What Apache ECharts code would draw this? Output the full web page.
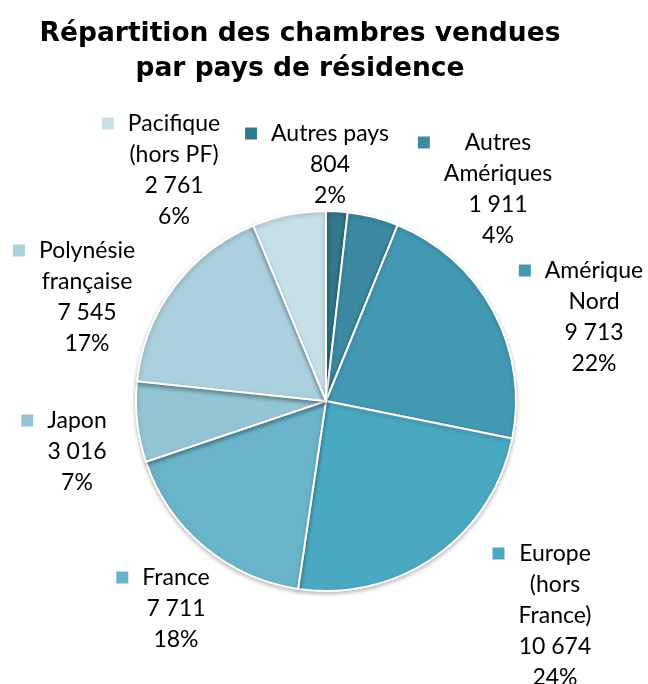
<!DOCTYPE html>
<html>
<head>
<meta charset="utf-8">
<script src="https://cdn.jsdelivr.net/npm/echarts@6/dist/echarts.min.js"></script>
<style>
  html, body { margin: 0; padding: 0; background: #fff; }
  #chart { width: 648px; height: 684px; }
</style>
</head>
<body>
<div id="chart"></div>
<script>
// data, clockwise from 12 o'clock
const categories = ['Autres pays', 'Autres\nAmériques', 'Amérique\nNord', 'Europe\n(hors\nFrance)', 'France', 'Japon', 'Polynésie\nfrançaise', 'Pacifique\n(hors PF)']
const values = [804, 1911, 9713, 10674, 7711, 3016, 7545, 2761]

const colors = ['#317a8c', '#3b8aa1', '#4399b2', '#4aa8c1', '#6ab4ca', '#93c4d4', '#abcfdc', '#c7e0e8']
// label block anchors (center x, top y)
const labelPos = [[317, 118], [485, 127], [581, 255], [542, 538], [163, 562], [64, 405], [74, 235], [161, 108]]

function fmtNum(n) {
  return String(n).replace(/\B(?=(\d{3})+(?!\d))/g, ' ')
}

const chart = echarts.init(document.getElementById('chart'))

chart.setOption({
  animation: false,
  title: {
    text: 'Répartition des chambres vendues\npar pays de résidence',
    left: 295,
    top: 12,
    textAlign: 'center',
    textStyle: {
      fontFamily: 'DejaVu Sans',
      fontWeight: 'bold',
      fontSize: 26.5,
      lineHeight: 35,
      color: '#000'
    }
  },
  series: [{
    type: 'pie',
    center: [326, 401],
    radius: 190,
    startAngle: 90,
    clockwise: true,
    percentPrecision: 0,
    itemStyle: {
      borderColor: '#fff',
      borderWidth: 2,
      shadowColor: 'rgba(0,0,0,0.25)',
      shadowBlur: 4,
      shadowOffsetY: 2
    },
    labelLine: { show: false },
    label: {
      show: true,
      position: 'inside',
      align: 'center',
      overflow: 'none',
      fontFamily: 'Lato',
      fontSize: 23,
      lineHeight: 31,
      color: '#000',
      formatter: p => {
        const lines = p.name.split('\n').concat([fmtNum(p.value), p.percent + '%'])
        return lines.map((l, i) => (i === 0 ? '{m' + p.dataIndex + '|}{g|}' : '{s|}') + '{t|' + l + '}').join('\n')
      },
      rich: Object.assign({
        g: { width: 14, align: 'left' },
        s: { width: 26, align: 'left' },
        t: { fontFamily: 'Lato', fontSize: 23, lineHeight: 31, align: 'center', color: '#000' }
      }, Object.fromEntries(colors.map((c, i) => ['m' + i, { width: 12, height: 12, backgroundColor: c, align: 'left', verticalAlign: 'middle' }])))
    },
    labelLayout: p => ({
      x: labelPos[p.dataIndex][0],
      y: labelPos[p.dataIndex][1],
      align: 'center',
      verticalAlign: 'top'
    }),
    data: categories.map((c, i) => ({ name: c, value: values[i], itemStyle: { color: colors[i] } }))
  }]
})
</script>
</body>
</html>
